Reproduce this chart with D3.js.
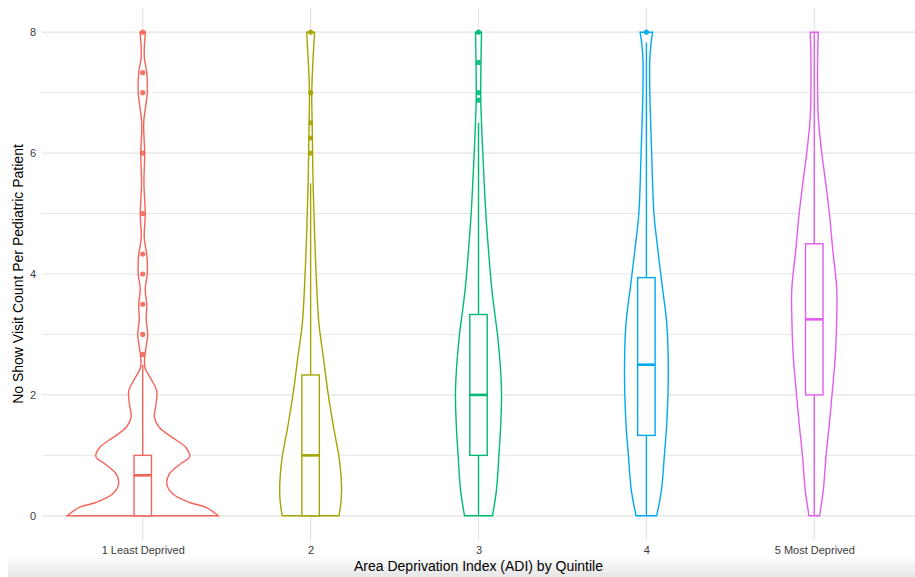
<!DOCTYPE html>
<html>
<head>
<meta charset="utf-8">
<script src="https://cdn.jsdelivr.net/npm/d3@7"></script>
<style>
  body { margin: 0; background: #fff; }
  svg { display: block; font-family: "Liberation Sans", Arial, sans-serif; }
</style>
</head>
<body>
<div id="chart"></div>
<script>
// categories
const groups = ["1 Least Deprived", "2", "3", "4", "5 Most Deprived"];
const groupColors = ["#F5645A", "#A3A500", "#00BA72", "#00AAF2", "#E45CF0"];
const yTicks = [0, 2, 4, 6, 8];

// violin outlines: [value, relative density] (1 = widest violin)
const violin1 = [[0, 1.0], [0.14, 0.84], [0.22, 0.62], [0.36, 0.40], [0.52, 0.32], [0.69, 0.35], [0.85, 0.49], [0.98, 0.62], [1.13, 0.57], [1.29, 0.40], [1.46, 0.22], [1.63, 0.155], [1.85, 0.176], [2.07, 0.185], [2.26, 0.11], [2.45, 0.03], [2.62, 0.026], [2.8, 0.046], [3.0, 0.066], [3.25, 0.046], [3.5, 0.053], [3.75, 0.033], [4.0, 0.06], [4.2, 0.06], [4.33, 0.053], [4.6, 0.02], [5.0, 0.033], [5.5, 0.016], [6.0, 0.026], [6.5, 0.013], [7.0, 0.06], [7.33, 0.053], [7.6, 0.02], [8.0, 0.036]];
const violin2 = [[0, 0.375], [0.2, 0.40], [0.43, 0.41], [0.7, 0.40], [0.98, 0.375], [1.42, 0.31], [2.0, 0.234], [2.63, 0.168], [3.18, 0.11], [3.8, 0.08], [4.4, 0.06], [5.0, 0.044], [5.5, 0.033], [6.0, 0.026], [6.5, 0.02], [7.0, 0.015], [7.5, 0.03], [8.0, 0.053]];
const violin3 = [[0, 0.185], [0.43, 0.238], [1.0, 0.27], [1.53, 0.295], [2.1, 0.304], [2.9, 0.26], [3.4, 0.21], [3.8, 0.172], [4.4, 0.132], [5.0, 0.097], [6.0, 0.057], [6.5, 0.04], [6.9, 0.03], [7.5, 0.033], [8.0, 0.04]];
const violin4 = [[0, 0.136], [0.43, 0.2], [1.0, 0.238], [1.53, 0.27], [2.36, 0.29], [3.18, 0.27], [3.8, 0.21], [4.4, 0.152], [5.0, 0.10], [6.0, 0.07], [7.0, 0.046], [7.5, 0.044], [7.8, 0.06], [8.0, 0.083]];
const violin5 = [[0, 0.07], [0.43, 0.12], [0.98, 0.155], [1.53, 0.2], [2.1, 0.242], [2.63, 0.278], [3.18, 0.295], [3.74, 0.298], [4.4, 0.245], [5.0, 0.2], [5.5, 0.152], [6.0, 0.10], [6.6, 0.053], [7.5, 0.044], [8.0, 0.053]];
const violins = [violin1, violin2, violin3, violin4, violin5];

// box stats: [lower whisker, q1, median, q3, upper whisker]
const boxStats = [
  [0, 0, 0.67, 1.0, 2.5],
  [0, 0, 1.0, 2.33, 5.5],
  [0, 1.0, 2.0, 3.33, 6.5],
  [0, 1.33, 2.5, 3.94, 7.83],
  [0, 2.0, 3.25, 4.5, 8.0]
];
const outliers = [
  [2.67, 3, 3.5, 4, 4.33, 5, 6, 7, 7.33, 8],
  [6, 6.25, 6.5, 7, 8],
  [6.875, 7, 7.5, 8],
  [8],
  []
];

const W = 915, H = 577;
const panel = { left: 42, right: 915, top: 8, bottom: 540 };

const svg = d3.select('#chart')
  .append('svg')
  .attr('width', W)
  .attr('height', H);

// bottom shadow of the screenshot
const grad = svg.append('defs').append('linearGradient')
  .attr('id', 'shade').attr('x1', 0).attr('x2', 0).attr('y1', 0).attr('y2', 1);
grad.append('stop').attr('offset', '0%').attr('stop-color', '#fff');
grad.append('stop').attr('offset', '100%').attr('stop-color', '#e6e6e6');
svg.append('rect')
  .attr('x', 8).attr('y', 556).attr('width', W - 8).attr('height', H - 556)
  .attr('fill', 'url(#shade)');

const x = d3.scalePoint()
  .domain(groups)
  .range([panel.left, panel.right])
  .padding(0.6);
const step = x.step();

const y = d3.scaleLinear()
  .domain([-0.4, 8.4])
  .range([panel.bottom, panel.top]);

const halfMax = 0.45 * step;
const lw = 1.4;

// grid lines
svg.append('g')
  .selectAll('line')
  .data(d3.range(0, 9, 1))
  .enter()
  .append('line')
  .attr('x1', panel.left)
  .attr('x2', panel.right)
  .attr('y1', d => y(d))
  .attr('y2', d => y(d))
  .attr('stroke', '#e3e3e3')
  .attr('stroke-width', d => d % 2 === 0 ? 1.2 : 0.9);

svg.append('g')
  .selectAll('line')
  .data(groups)
  .enter()
  .append('line')
  .attr('x1', d => x(d))
  .attr('x2', d => x(d))
  .attr('y1', panel.top)
  .attr('y2', panel.bottom)
  .attr('stroke', '#e3e3e3')
  .attr('stroke-width', 1.2);

// axes (text only, like theme_minimal)
const yAxis = svg.append('g')
  .attr('transform', `translate(${panel.left - 4},0)`)
  .call(d3.axisLeft(y).tickValues(yTicks).tickSize(0).tickPadding(2));
yAxis.select('.domain').remove();
yAxis.selectAll('text')
  .attr('fill', '#3a3a3a')
  .style('font-size', '11px')
  .style('font-family', '"Liberation Sans", Arial, sans-serif');

const xAxis = svg.append('g')
  .attr('transform', `translate(0,${panel.bottom + 2})`)
  .call(d3.axisBottom(x).tickSize(0).tickPadding(4));
xAxis.select('.domain').remove();
xAxis.selectAll('text')
  .attr('fill', '#3a3a3a')
  .style('font-size', '11px')
  .style('font-family', '"Liberation Sans", Arial, sans-serif');

// violins
groups.forEach((g, i) => {
  const cx = x(g);
  const area = d3.area()
    .curve(d3.curveCatmullRom.alpha(0.5))
    .y(d => y(d[0]))
    .x0(d => cx - d[1] * halfMax)
    .x1(d => cx + d[1] * halfMax);

  svg.append('path')
    .datum(violins[i])
    .attr('d', area)
    .attr('fill', 'white')
    .attr('stroke', groupColors[i])
    .attr('stroke-width', lw);
});

// box plots
const boxHalf = 0.052 * step;
const boxes = svg.selectAll('.box')
  .data(groups)
  .enter()
  .append('g')
  .attr('class', 'box');

boxes.append('line')
  .attr('x1', d => x(d)).attr('x2', d => x(d))
  .attr('y1', (d, i) => y(boxStats[i][3]))
  .attr('y2', (d, i) => y(boxStats[i][4]))
  .attr('stroke', (d, i) => groupColors[i])
  .attr('stroke-width', lw);

boxes.append('line')
  .attr('x1', d => x(d)).attr('x2', d => x(d))
  .attr('y1', (d, i) => y(boxStats[i][0]))
  .attr('y2', (d, i) => y(boxStats[i][1]))
  .attr('stroke', (d, i) => groupColors[i])
  .attr('stroke-width', lw);

boxes.append('rect')
  .attr('x', d => x(d) - boxHalf)
  .attr('width', boxHalf * 2)
  .attr('y', (d, i) => y(boxStats[i][3]))
  .attr('height', (d, i) => y(boxStats[i][1]) - y(boxStats[i][3]))
  .attr('fill', 'white')
  .attr('stroke', (d, i) => groupColors[i])
  .attr('stroke-width', lw);

boxes.append('line')
  .attr('x1', d => x(d) - boxHalf)
  .attr('x2', d => x(d) + boxHalf)
  .attr('y1', (d, i) => y(boxStats[i][2]))
  .attr('y2', (d, i) => y(boxStats[i][2]))
  .attr('stroke', (d, i) => groupColors[i])
  .attr('stroke-width', 2.6);

// outliers
groups.forEach((g, i) => {
  svg.append('g')
    .selectAll('circle')
    .data(outliers[i])
    .enter()
    .append('circle')
    .attr('cx', x(g))
    .attr('cy', d => y(d))
    .attr('r', 2.6)
    .attr('fill', groupColors[i])
    .attr('fill-opacity', 0.9);
});

// axis titles
svg.append('text')
  .attr('x', (panel.left + panel.right) / 2)
  .attr('y', 571)
  .attr('text-anchor', 'middle')
  .style('font-size', '14px')
  .attr('fill', '#000')
  .text('Area Deprivation Index (ADI) by Quintile');

svg.append('text')
  .attr('transform', 'rotate(-90)')
  .attr('x', -(panel.top + panel.bottom) / 2)
  .attr('y', 23)
  .attr('text-anchor', 'middle')
  .style('font-size', '14px')
  .attr('fill', '#000')
  .text('No Show Visit Count Per Pediatric Patient');
</script>
</body>
</html>
